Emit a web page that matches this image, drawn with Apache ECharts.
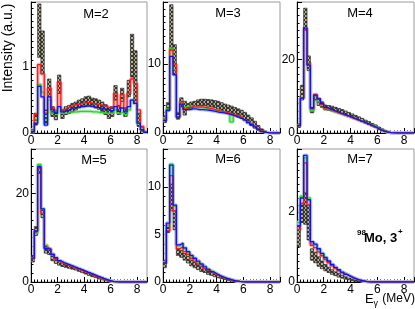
<!DOCTYPE html>
<html><head><meta charset="utf-8">
<script src="https://cdn.jsdelivr.net/npm/echarts@6/dist/echarts.min.js"></script>
<style>html,body{margin:0;padding:0;background:#fff}#c{width:415px;height:309px}</style>
</head><body><div id="c"></div>
<script>
// ---- data (bins of 0.25 MeV from 0 to 8.75 MeV) ----
const BIN_WIDTH = 0.25;
const X_MAX = 8.75;
const panelNames = ['M=2','M=3','M=4','M=5','M=6','M=7'];
const yMax = [1.99, 19, 35.7, 30, 14, 3.8];
const yInterval = [1, 10, 20, 20, 5, 2];
const yMinorStep = [0.1, 1, 2, 2, 1, 0.2];

const m2Lo = [0.00,0.12,1.15,0.90,0.15,0.55,0.25,0.20,0.60,0.22,0.28,0.30,0.32,0.35,0.38,0.40,0.42,0.42,0.40,0.38,0.36,0.33,0.28,0.22,0.25,0.50,0.28,0.48,0.25,0.55,0.85,0.45,0.10,0.02,0.00];
const m2Hi = [0.05,0.30,1.96,1.55,0.35,0.82,0.40,0.35,0.88,0.35,0.40,0.42,0.45,0.47,0.50,0.52,0.55,0.56,0.53,0.52,0.50,0.47,0.43,0.38,0.40,0.72,0.42,0.68,0.38,0.80,1.50,1.25,0.30,0.08,0.02];
const m2Red = [0.05,0.28,1.04,0.90,0.30,0.68,0.38,0.33,0.77,0.35,0.38,0.40,0.42,0.43,0.44,0.45,0.46,0.46,0.45,0.44,0.43,0.42,0.40,0.38,0.40,0.60,0.40,0.58,0.38,0.60,0.82,0.75,0.35,0.10,0.02];
const m2Green = [0.03,0.20,0.74,0.62,0.20,0.50,0.30,0.28,0.40,0.30,0.30,0.32,0.32,0.32,0.33,0.33,0.33,0.33,0.32,0.32,0.31,0.31,0.30,0.30,0.30,0.35,0.30,0.32,0.28,0.35,0.50,0.45,0.15,0.05,0.01];
const m2Blue = [0.02,0.15,0.71,0.55,0.12,0.55,0.35,0.30,0.40,0.32,0.34,0.36,0.38,0.39,0.40,0.40,0.41,0.41,0.40,0.39,0.38,0.37,0.36,0.34,0.34,0.40,0.33,0.38,0.32,0.40,0.50,0.45,0.15,0.05,0.01];

const m3Lo = [1.5,3.2,12.0,8.5,2.0, 3.8,2.6,3.5,3.6,3.8, 4.0,4.0,4.0,3.9,3.8, 3.7,3.5,3.3,3.1,2.9, 2.65,2.5,2.3,2.1,1.8, 1.5,1.1,0.7,0.4,0.15, 0.02,0,0,0,0];
const m3Hi = [2.5,4.4,18.6,12.8,3.0, 5.1,4.6,4.3,4.5,4.6, 4.8,4.9,4.9,4.85,4.8, 4.7,4.6,4.4,4.2,4.05, 3.9,3.7,3.5,3.3,3.0, 2.6,2.2,1.7,1.1,0.6, 0.25,0.05,0,0,0];
const m3Red = [2.0,3.3,12.0,10.0,2.3, 4.5,3.5,3.7,3.8,3.8, 3.8,3.8,3.7,3.6,3.5, 3.35,3.2,3.1,3.0,2.9, 2.75,2.6,2.4,2.2,1.9, 1.6,1.3,1.0,0.6,0.3, 0.1,0.02,0,0,0];
const m3Green = [2.1,3.5,12.3,9.2,2.4, 4.4,3.8,3.9,3.9,3.8, 3.7,3.7,3.6,3.5,3.4, 3.3,3.2,3.1,3.0,2.9, 1.6,2.6,2.4,2.2,1.9, 1.6,1.3,1.0,0.6,0.3, 0.1,0.02,0,0,0];
const m3Blue = [1.8,3.3,11.1,8.45,2.3, 4.2,3.4,3.4,3.5,3.5, 3.4,3.4,3.35,3.3,3.2, 3.1,3.0,2.95,2.85,2.75, 2.6,2.45,2.25,2.05,1.8, 1.5,1.2,0.9,0.55,0.25, 0.08,0.02,0,0,0];

const m4Lo = [1.5,9.0,28.0,17.0,5.5, 9.0,7.5,7.0,6.3,6.2, 6.0,5.8,5.5,5.2,4.9, 4.6,4.2,3.9,3.5,3.1, 2.7,2.3,1.9,1.5,1.0, 0.6,0.3,0.1,0.02,0, 0,0,0,0,0];
const m4Hi = [2.5,13.0,34.0,21.0,7.0, 10.5,9.5,8.5,7.6,7.5, 7.3,7.0,6.7,6.4,6.0, 5.6,5.2,4.8,4.4,4.0, 3.5,3.1,2.6,2.2,1.6, 1.1,0.6,0.25,0.05,0, 0,0,0,0,0];
const m4Red = [2.0,9.5,28.0,19.0,6.5, 10.5,9.2,7.8,6.8,6.4, 6.0,5.7,5.4,5.0,4.7, 4.4,4.0,3.7,3.3,3.0, 2.6,2.2,1.8,1.4,0.9, 0.55,0.3,0.1,0.02,0, 0,0,0,0,0];
const m4Green = [2.0,9.5,28.0,19.0,6.0, 10.0,8.5,7.5,6.6,6.3, 5.9,5.6,5.3,5.0,4.7, 4.4,4.1,3.8,3.5,3.2, 2.8,2.4,2.0,1.6,1.1, 0.7,0.35,0.1,0.02,0, 0,0,0,0,0];
const m4Blue = [2.0,9.5,28.6,18.5,6.8, 10.3,9.3,8.0,7.0,6.6, 6.2,5.9,5.5,5.2,4.8, 4.5,4.1,3.8,3.4,3.1, 2.7,2.3,1.9,1.5,1.0, 0.6,0.3,0.1,0.02,0, 0,0,0,0,0];

const m5Lo = [4.5,10.5,24.5,14.5,6.5, 6.2,4.8,4.2,3.8,3.5, 3.3,3.1,2.9,2.7,2.4, 2.1,1.8,1.5,1.2,1.0, 0.7,0.5,0.3,0.15,0.05, 0.01,0,0,0,0, 0,0,0,0,0];
const m5Hi = [6.0,12.5,26.2,16.2,8.2, 7.2,6.0,5.2,4.7,4.3, 4.0,3.8,3.6,3.3,3.0, 2.7,2.4,2.1,1.8,1.5, 1.2,0.9,0.6,0.4,0.15, 0.04,0,0,0,0, 0,0,0,0,0];
const m5Red = [5.3,11.5,25.5,15.5,7.8, 7.5,6.3,5.3,4.6,4.2, 3.9,3.6,3.3,3.0,2.7, 2.4,2.1,1.8,1.5,1.2, 0.9,0.7,0.45,0.25,0.1, 0.03,0,0,0,0, 0,0,0,0,0];
const m5Green = [5.5,11.0,26.5,16.5,8.3, 7.5,6.0,5.2,4.7,4.3, 4.0,3.7,3.4,3.1,2.8, 2.5,2.2,1.9,1.6,1.3, 1.0,0.7,0.5,0.3,0.1, 0.03,0,0,0,0, 0,0,0,0,0];
const m5Blue = [5.4,11.5,26.0,16.5,7.5, 7.4,6.2,5.5,4.8,4.4, 4.1,3.8,3.5,3.2,2.9, 2.6,2.3,2.0,1.7,1.4, 1.1,0.8,0.55,0.3,0.1, 0.03,0,0,0,0, 0,0,0,0,0];

const m6Lo = [1.5,5.2,7.5,5.5,2.8, 2.6,2.3,2.0,1.7,1.5, 1.3,1.1,1.0,0.8,0.7, 0.55,0.45,0.35,0.25,0.18, 0.1,0.05,0.02,0,0, 0,0,0,0,0, 0,0,0,0,0];
const m6Hi = [2.3,6.0,10.3,7.5,3.5, 3.3,3.0,2.7,2.3,2.1, 1.8,1.6,1.4,1.2,1.0, 0.85,0.7,0.55,0.42,0.3, 0.2,0.12,0.06,0.02,0, 0,0,0,0,0, 0,0,0,0,0];
const m6Red = [2.0,5.4,11.2,7.5,3.5, 3.7,3.2,2.9,2.5,2.2, 1.9,1.7,1.4,1.2,1.0, 0.8,0.65,0.5,0.38,0.28, 0.18,0.12,0.06,0.02,0, 0,0,0,0,0, 0,0,0,0,0];
const m6Green = [2.1,5.9,12.4,8.0,3.8, 4.0,3.5,3.1,2.7,2.4, 2.1,1.8,1.6,1.3,1.1, 0.9,0.7,0.55,0.4,0.3, 0.2,0.12,0.06,0.02,0, 0,0,0,0,0, 0,0,0,0,0];
const m6Blue = [2.0,6.2,12.3,8.1,3.9, 4.1,3.6,3.2,2.8,2.5, 2.2,1.9,1.6,1.35,1.1, 0.9,0.7,0.55,0.4,0.3, 0.2,0.12,0.06,0.02,0, 0,0,0,0,0, 0,0,0,0,0];

const m7Lo = [1.0,1.7,1.65,1.2,0.62, 0.55,0.45,0.38,0.32,0.27, 0.22,0.18,0.14,0.11,0.08, 0.06,0.04,0.02,0.01,0, 0,0,0,0,0, 0,0,0,0,0, 0,0,0,0,0];
const m7Hi = [1.6,2.2,2.55,2.2,0.95, 0.85,0.72,0.6,0.5,0.42, 0.35,0.29,0.24,0.19,0.15, 0.11,0.08,0.05,0.03,0.01, 0,0,0,0,0, 0,0,0,0,0, 0,0,0,0,0];
const m7Red = [1.5,2.25,3.4,2.2,1.05, 0.98,0.86,0.75,0.64,0.55, 0.46,0.39,0.32,0.26,0.21, 0.16,0.12,0.08,0.05,0.03, 0.01,0,0,0,0, 0,0,0,0,0, 0,0,0,0,0];
const m7Green = [1.7,2.45,3.55,2.4,1.1, 1.05,0.92,0.8,0.68,0.58, 0.49,0.41,0.34,0.27,0.22, 0.17,0.12,0.08,0.05,0.03, 0.01,0,0,0,0, 0,0,0,0,0, 0,0,0,0,0];
const m7Blue = [1.6,2.4,3.62,2.35,1.15, 1.08,0.95,0.82,0.7,0.6, 0.5,0.42,0.35,0.28,0.22, 0.17,0.12,0.08,0.05,0.03, 0.01,0,0,0,0, 0,0,0,0,0, 0,0,0,0,0];

const panelData = [
  {lo:m2Lo, hi:m2Hi, red:m2Red, green:m2Green, blue:m2Blue},
  {lo:m3Lo, hi:m3Hi, red:m3Red, green:m3Green, blue:m3Blue},
  {lo:m4Lo, hi:m4Hi, red:m4Red, green:m4Green, blue:m4Blue},
  {lo:m5Lo, hi:m5Hi, red:m5Red, green:m5Green, blue:m5Blue},
  {lo:m6Lo, hi:m6Hi, red:m6Red, green:m6Green, blue:m6Blue},
  {lo:m7Lo, hi:m7Hi, red:m7Red, green:m7Green, blue:m7Blue}
];

// ---- layout ----
const colLeft = [31, 163, 297], colWidth = [116, 117, 117];
const rowTop = [2, 149], rowHeight = [131, 133];
const FONT = 'Liberation Sans, Arial, Helvetica, sans-serif';

function hatchPattern() {
  const c = document.createElement('canvas'); c.width = 4; c.height = 4;
  const g = c.getContext('2d');
  g.fillStyle = '#b9b196'; g.fillRect(0, 0, 4, 4);
  g.strokeStyle = '#151515'; g.lineWidth = 0.8;
  g.beginPath(); g.moveTo(0, 0); g.lineTo(4, 4); g.moveTo(4, 0); g.lineTo(0, 4); g.stroke();
  return c;
}
const PAT = hatchPattern();

function stepPoints(arr) {
  const pts = arr.map((v, i) => [i * BIN_WIDTH, v]);
  pts.push([X_MAX, arr[arr.length - 1]]);
  return pts;
}
function multipleOf(v, step) { const r = v / step; return Math.abs(r - Math.round(r)) < 1e-6; }

const grids = [], xAxes = [], yAxes = [], series = [], graphics = [];
for (let p = 0; p < 6; p++) {
  const r = Math.floor(p / 3), c = p % 3;
  grids.push({left: colLeft[c], top: rowTop[r], width: colWidth[c], height: rowHeight[r],
    show: true, borderColor: '#9a9a9a', borderWidth: 1, backgroundColor: '#fff', containLabel: false, outerBoundsMode: 'none'});
  const base = 2 * p;
  xAxes.push({gridIndex: p, type: 'value', position: 'bottom', min: 0, max: X_MAX, interval: 2,
    axisLine: {show: true, onZero: false, lineStyle: {color: '#000', width: 1}},
    axisTick: {show: true, inside: true, length: 5, lineStyle: {color: '#000', width: 1}},
    axisLabel: {show: true, color: '#000', fontSize: 12, fontFamily: FONT, margin: 2,
      formatter: v => (multipleOf(v, 2) && v < X_MAX - 1e-6) ? String(Math.round(v)) : ''},
    splitLine: {show: false}});
  xAxes.push({gridIndex: p, type: 'value', position: 'bottom', min: 0, max: X_MAX, interval: BIN_WIDTH,
    axisLine: {show: false}, axisTick: {show: true, inside: true, length: 2.5, lineStyle: {color: '#000', width: 1}},
    axisLabel: {show: false}, splitLine: {show: false}});
  yAxes.push({gridIndex: p, type: 'value', position: 'left', min: 0, max: yMax[p], interval: yInterval[p],
    axisLine: {show: true, onZero: false, lineStyle: {color: '#000', width: 1}},
    axisTick: {show: true, inside: true, length: 5, lineStyle: {color: '#000', width: 1}},
    axisLabel: {show: true, color: '#000', fontSize: 12, fontFamily: FONT, margin: 2,
      formatter: v => (multipleOf(v, yInterval[p]) && v < yMax[p] - 1e-6) ? String(Math.round(v)) : ''},
    splitLine: {show: false}});
  yAxes.push({gridIndex: p, type: 'value', position: 'left', min: 0, max: yMax[p], interval: yMinorStep[p],
    axisLine: {show: false}, axisTick: {show: true, inside: true, length: 2.5, lineStyle: {color: '#000', width: 1}},
    axisLabel: {show: false}, splitLine: {show: false}});

  const d = panelData[p];
  const paleCols = {green: '#a6eaa6', red: '#f3aaaa', blue: '#aebde6'};
  ['green', 'red', 'blue'].forEach(k => {
    series.push({type: 'line', xAxisIndex: base, yAxisIndex: base, data: stepPoints(d[k]), step: 'end',
      showSymbol: false, symbol: 'none', silent: true, z: 1,
      lineStyle: {color: paleCols[k], width: 3.5, opacity: 0.9}});
  });
  const bandData = d.lo.map((v, i) => [i * BIN_WIDTH, (i + 1) * BIN_WIDTH, v, d.hi[i]]);
  series.push({type: 'custom', xAxisIndex: base, yAxisIndex: base, data: bandData, clip: true, z: 2,
    encode: {x: [0, 1], y: [2, 3]}, silent: true,
    renderItem: (params, api) => {
      const x0 = api.value(0), x1 = api.value(1), lo = api.value(2), hi = api.value(3);
      if (!(hi > lo)) return null;
      const a = api.coord([x0, hi]), b = api.coord([x1, lo]);
      return {type: 'rect', shape: {x: a[0], y: a[1], width: b[0] - a[0], height: b[1] - a[1]},
        style: {fill: {image: PAT, repeat: 'repeat'}, stroke: '#222', lineWidth: 0.7}};
    }});
  const lineCols = {green: '#1fdc1f', red: '#ff1a1a', blue: '#1010ff'};
  ['green', 'red', 'blue'].forEach(k => {
    series.push({type: 'line', xAxisIndex: base, yAxisIndex: base, data: stepPoints(d[k]), step: 'end',
      showSymbol: false, symbol: 'none', silent: true, z: 3,
      lineStyle: {color: lineCols[k], width: 1.3}});
  });
}

const labelPos = [[96, 14], [228, 13], [360, 13], [94, 160], [228, 159], [360, 159]];
panelNames.forEach((t, i) => {
  graphics.push({type: 'text', x: labelPos[i][0], y: labelPos[i][1], z: 100,
    style: {text: t, font: '13px ' + FONT, fill: '#000', align: 'center', verticalAlign: 'middle'}});
});
graphics.push({type: 'text', x: 8, y: 48, rotation: Math.PI / 2, z: 100,
  style: {text: 'Intensity (a.u.)', font: '14px ' + FONT, fill: '#000', align: 'center', verticalAlign: 'middle'}});
graphics.push({type: 'text', x: 365, y: 299, z: 100,
  style: {text: 'E', font: '13px ' + FONT, fill: '#000', align: 'left', verticalAlign: 'middle'}});
graphics.push({type: 'text', x: 373.5, y: 304, z: 100,
  style: {text: 'γ', font: '9px ' + FONT, fill: '#000', align: 'left', verticalAlign: 'middle'}});
graphics.push({type: 'text', x: 415, y: 299, z: 100,
  style: {text: '(MeV)', font: '12px ' + FONT, fill: '#000', align: 'right', verticalAlign: 'middle'}});
graphics.push({type: 'text', x: 357, y: 233, z: 100,
  style: {text: '98', font: 'bold 8px ' + FONT, fill: '#000', align: 'left', verticalAlign: 'middle'}});
graphics.push({type: 'text', x: 364, y: 238, z: 100,
  style: {text: 'Mo, 3', font: 'bold 13px ' + FONT, fill: '#000', align: 'left', verticalAlign: 'middle'}});
graphics.push({type: 'text', x: 398, y: 232, z: 100,
  style: {text: '+', font: 'bold 8px ' + FONT, fill: '#000', align: 'left', verticalAlign: 'middle'}});

const chart = echarts.init(document.getElementById('c'), null, {renderer: 'canvas', width: 415, height: 309});
chart.setOption({
  animation: false,
  backgroundColor: '#fff',
  textStyle: {fontFamily: FONT},
  grid: grids, xAxis: xAxes, yAxis: yAxes, series: series, graphic: graphics
});
</script></body></html>
